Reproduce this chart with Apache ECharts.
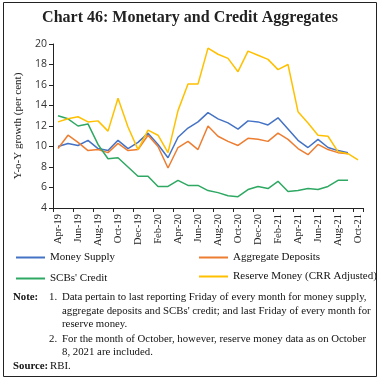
<!DOCTYPE html>
<html>
<head>
<meta charset="utf-8">
<script src="https://cdn.jsdelivr.net/npm/echarts@6/dist/echarts.min.js"></script>
<style>
html,body{margin:0;padding:0;background:#fff;}
#chart{width:380px;height:381px;}
</style>
</head>
<body>
<div id="chart"></div>
<script>
var months = ['Apr-19','May-19','Jun-19','Jul-19','Aug-19','Sep-19','Oct-19','Nov-19','Dec-19','Jan-20','Feb-20','Mar-20',
  'Apr-20','May-20','Jun-20','Jul-20','Aug-20','Sep-20','Oct-20','Nov-20','Dec-20','Jan-21','Feb-21','Mar-21',
  'Apr-21','May-21','Jun-21','Jul-21','Aug-21','Sep-21','Oct-21'];
var moneySupply = [10.0,10.3,10.1,10.6,9.8,9.6,10.6,9.8,10.4,11.3,10.2,8.9,10.9,11.8,12.4,13.3,12.7,12.3,11.7,12.5,12.4,12.1,12.8,11.7,10.6,9.9,10.7,9.9,9.6,9.4];
var aggregateDeposits = [9.8,11.1,10.4,9.6,9.7,9.4,10.3,9.6,9.7,11.1,10.0,7.9,9.9,10.5,9.7,12.0,11.0,10.5,10.1,10.8,10.7,10.5,11.3,10.7,9.8,9.2,10.2,9.7,9.4,9.3];
var scbCredit = [13.0,12.7,12.0,12.2,10.2,8.8,8.9,8.0,7.1,7.1,6.1,6.1,6.7,6.2,6.2,5.7,5.5,5.2,5.1,5.8,6.1,5.9,6.6,5.6,5.7,5.9,5.8,6.1,6.7,6.7];
var reserveMoney = [12.4,12.7,12.9,12.4,12.5,11.5,14.7,11.9,9.7,11.6,11.1,9.4,13.5,16.1,16.1,19.6,19.0,18.6,17.3,19.3,18.9,18.5,17.5,18.0,13.4,12.3,11.1,11.0,9.5,9.3,8.7];
var seriesNames = ['Money Supply','Aggregate Deposits',"SCBs' Credit",'Reserve Money (CRR Adjusted)'];
var colors = ['#4472C4','#ED7D31','#2EA862','#FFC000'];
var titleText = 'Chart 46: Monetary and Credit Aggregates';
var yTitle = 'Y-o-Y growth (per cent)';
var noteLines = [
  'Data pertain to last reporting Friday of every month for money supply,',
  "aggregate deposits and SCBs' credit; and last Friday of every month for",
  'reserve money.',
  'For the month of October, however, reserve money data as on October',
  '8, 2021 are included.'
];

var serif = '"Liberation Serif", "DejaVu Serif", serif';
var noteFont = '10.8px ' + serif;
var chart = echarts.init(document.getElementById('chart'), null, {renderer:'canvas'});

function legendAt(name, left, top){
  return {
    data:[name], left:left, top:top, padding:0, orient:'horizontal',
    icon:'rect', itemWidth:29, itemHeight:2,
    textStyle:{fontFamily:serif, fontSize:11, color:'#111'},
    selectedMode:false
  };
}
function lineSeries(i, data){
  return {
    name: seriesNames[i], type:'line', data:data, symbol:'none',
    lineStyle:{color:colors[i], width:1.5}, itemStyle:{color:colors[i]},
    animation:false, z: 3
  };
}
function txt(x, y, s, font){
  return {type:'text', x:x, y:y, style:{text:s, font:font, fill:'#111', textVerticalAlign:'middle'}};
}

var graphics = [
  {type:'rect', shape:{x:3.5,y:2.5,width:373,height:374}, style:{fill:'none', stroke:'#222', lineWidth:1}, silent:true},
  {type:'text', x:190, y:18, style:{text:titleText, font:'bold 16px '+serif, fill:'#222', textAlign:'center', textVerticalAlign:'middle'}},
  txt(13, 297, 'Note:', 'bold ' + noteFont),
  txt(49, 297, '1.', noteFont),
  txt(62, 297, noteLines[0], noteFont),
  txt(62, 311, noteLines[1], noteFont),
  txt(62, 324, noteLines[2], noteFont),
  txt(49, 339, '2.', noteFont),
  txt(62, 339, noteLines[3], noteFont),
  txt(62, 352, noteLines[4], noteFont),
  txt(13, 366, 'Source:', 'bold ' + noteFont),
  txt(50, 366, 'RBI.', noteFont)
];

var option = {
  backgroundColor:'#fff',
  animation:false,
  grid:{left:53, right:17, top:44, bottom:173, containLabel:false},
  legend:[
    legendAt(seriesNames[0], 16, 252),
    legendAt(seriesNames[1], 199, 252),
    legendAt(seriesNames[2], 16, 273),
    legendAt(seriesNames[3], 199, 271)
  ],
  xAxis:{
    type:'category', data:months, boundaryGap:true,
    axisLine:{lineStyle:{color:'#222', width:1}},
    axisTick:{show:true, interval:1, length:4, lineStyle:{color:'#222'}},
    axisLabel:{interval:1, rotate:90, fontFamily:serif, fontSize:10.5, color:'#222', margin:6}
  },
  yAxis:{
    type:'value', min:4, max:20, interval:2,
    name:yTitle, nameLocation:'middle', nameGap:21,
    nameTextStyle:{fontFamily:serif, fontSize:11, color:'#222'},
    axisLine:{show:true, lineStyle:{color:'#222', width:1}},
    axisTick:{show:true, length:4, lineStyle:{color:'#222'}},
    axisLabel:{fontFamily:'"Open Sans", sans-serif', fontSize:10.5, color:'#333', margin:6},
    splitLine:{show:false}
  },
  series:[
    lineSeries(0, moneySupply),
    lineSeries(1, aggregateDeposits),
    lineSeries(2, scbCredit),
    lineSeries(3, reserveMoney)
  ],
  graphic: graphics
};
chart.setOption(option);
</script>
</body>
</html>
